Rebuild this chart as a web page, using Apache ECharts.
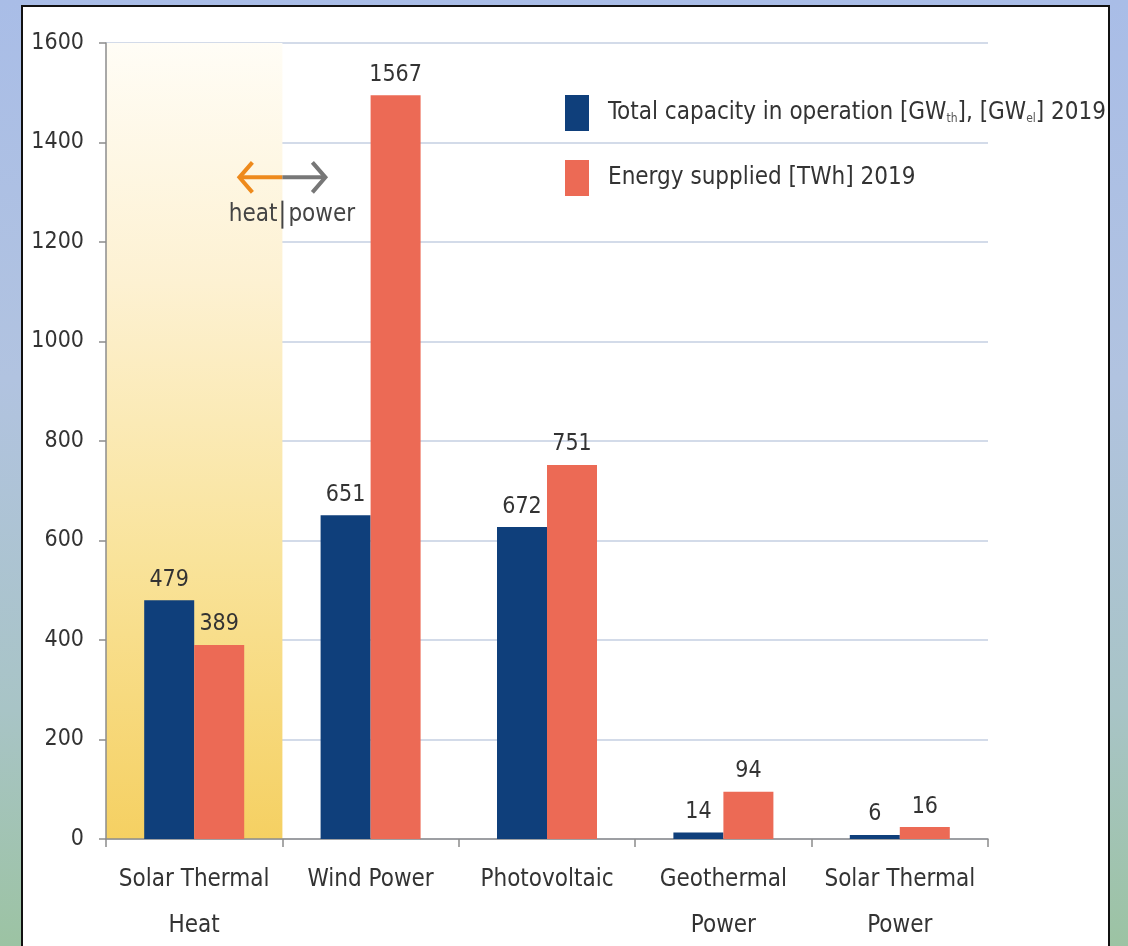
<!DOCTYPE html>
<html>
<head>
<meta charset="utf-8">
<script src="https://cdn.jsdelivr.net/npm/echarts@6/dist/echarts.min.js"></script>
<style>
    html, body { margin: 0; padding: 0; }
    body {
        width: 1128px; height: 946px; overflow: hidden; position: relative;
        background: linear-gradient(to bottom, #a9bde7 0%, #b1c3e0 40%, #a8c4c6 75%, #9cc3a3 100%);
    }
    #panel {
        position: absolute; left: 21px; top: 5px; width: 1085px; height: 960px;
        background: #fff; border: 2px solid #111;
    }
    #chart { position: absolute; left: 0; top: 0; width: 1128px; height: 946px; }
</style>
</head>
<body>
<div id="panel"></div>
<div id="chart"></div>
<script>
// 数据 begin
const categories = ['Solar Thermal\nHeat', 'Wind Power', 'Photovoltaic', 'Geothermal\nPower', 'Solar Thermal\nPower'];
const capacityValues = [480, 651, 627, 13, 8];       // 柱高
const energyValues = [390, 1495, 752, 95, 24];
const capacityLabels = ['479', '651', '672', '14', '6'];   // 柱顶标注
const energyLabels = ['389', '1567', '751', '94', '16'];
const seriesNames = ['Total capacity in operation [GWth], [GWel] 2019', 'Energy supplied [TWh] 2019'];
const Y_MAX = 1600;
const Y_STEP = 200;
// end

const FONT = '"Liberation Sans Narrow", "DejaVu Sans Condensed", "Roboto Condensed", sans-serif';
const BLUE = '#0f3f7b';
const ORANGE = '#ec6a55';

let chart = echarts.init(document.getElementById('chart'), null, { renderer: 'canvas' });

function barLabel(labels) {
    return {
        show: true,
        position: 'top',
        distance: 9,
        color: '#333',
        fontFamily: FONT,
        fontSize: 23,
        formatter: p => labels[p.dataIndex]
    };
}

chart.setOption({
    animation: false,
    backgroundColor: 'transparent',
    grid: { left: 106, right: 140, top: 43, bottom: 107, outerBoundsMode: 'none' },
    legend: {
        orient: 'vertical',
        left: 560,
        top: 90,
        itemWidth: 24,
        itemHeight: 36,
        itemGap: 29,
        icon: 'rect',
        selectedMode: false,
        formatter: name => {
            if (name === seriesNames[0])
                return '{g|}{a|Total capacity in operation [GW}{s|th}{a|], [GW}{s|el}{a|] 2019}';
            return '{g|}{a|Energy supplied [TWh] 2019}';
        },
        textStyle: {
            rich: {
                g: { width: 14 },
                a: { fontFamily: FONT, fontSize: 24, color: '#333' },
                s: { fontFamily: FONT, fontSize: 12, color: '#555', verticalAlign: 'bottom', padding: [12, 0, 0, 0] }
            }
        }
    },
    xAxis: {
        type: 'category',
        data: categories,
        axisLine: { lineStyle: { color: '#8c8c8c', width: 1.5 } },
        axisTick: { show: true, length: 8, lineStyle: { color: '#8c8c8c', width: 1.5 } },
        axisLabel: {
            color: '#333',
            fontFamily: FONT,
            fontSize: 24,
            lineHeight: 46,
            margin: 18,
            interval: 0
        },
        splitArea: {
            show: true,
            areaStyle: {
                color: [
                    new echarts.graphic.LinearGradient(0, 0, 0, 1, [
                        { offset: 0, color: '#fffdf6' },
                        { offset: 0.3, color: '#fdf1d2' },
                        { offset: 0.65, color: '#f9e39a' },
                        { offset: 1, color: '#f5d062' }
                    ]),
                    'rgba(0,0,0,0)', 'rgba(0,0,0,0)', 'rgba(0,0,0,0)', 'rgba(0,0,0,0)'
                ]
            }
        }
    },
    yAxis: {
        type: 'value',
        min: 0,
        max: Y_MAX,
        interval: Y_STEP,
        axisLine: { show: true, lineStyle: { color: '#8c8c8c', width: 1.5 } },
        axisTick: { show: true, length: 7, lineStyle: { color: '#8c8c8c', width: 1.5 } },
        axisLabel: { color: '#333', fontFamily: FONT, fontSize: 23, margin: 22, formatter: v => String(v) },
        splitLine: { lineStyle: { color: '#d3dbe9', width: 2 } }
    },
    series: [
        {
            name: seriesNames[0],
            type: 'bar',
            data: capacityValues,
            barWidth: 50,
            barGap: '0%',
            itemStyle: { color: BLUE },
            label: barLabel(capacityLabels)
        },
        {
            name: seriesNames[1],
            type: 'bar',
            data: energyValues,
            barWidth: 50,
            barGap: '0%',
            itemStyle: { color: ORANGE },
            label: barLabel(energyLabels)
        }
    ]
});

/**
 * heat | power 注释，位置由坐标轴换算
 */
function drawNote() {
    let x0 = chart.convertToPixel({ xAxisIndex: 0 }, categories[0]);
    let x1 = chart.convertToPixel({ xAxisIndex: 0 }, categories[1]);
    let bx = (x0 + x1) / 2;
    let ay = chart.convertToPixel({ yAxisIndex: 0 }, 1330);
    let ty = chart.convertToPixel({ yAxisIndex: 0 }, 1255);
    chart.setOption({
        graphic: [
            { type: 'polyline', shape: { points: [[bx, ay], [bx - 42, ay]] }, style: { stroke: '#ee8a1c', lineWidth: 4, fill: null } },
            { type: 'polyline', shape: { points: [[bx - 30, ay - 15], [bx - 43, ay], [bx - 30, ay + 15]] }, style: { stroke: '#ee8a1c', lineWidth: 4, fill: null } },
            { type: 'polyline', shape: { points: [[bx, ay], [bx + 42, ay]] }, style: { stroke: '#777', lineWidth: 4, fill: null } },
            { type: 'polyline', shape: { points: [[bx + 30, ay - 15], [bx + 43, ay], [bx + 30, ay + 15]] }, style: { stroke: '#777', lineWidth: 4, fill: null } },
            { type: 'text', x: bx - 5, y: ty, style: { text: 'heat', align: 'right', verticalAlign: 'middle', font: '24px ' + FONT, fill: '#444' } },
            { type: 'line', shape: { x1: bx, y1: ty - 14, x2: bx, y2: ty + 14 }, style: { stroke: '#444', lineWidth: 2 } },
            { type: 'text', x: bx + 6, y: ty, style: { text: 'power', align: 'left', verticalAlign: 'middle', font: '24px ' + FONT, fill: '#444' } }
        ]
    });
}
drawNote();

window.onresize = function () {
    chart.resize();
    drawNote();
};
</script>
</body>
</html>
